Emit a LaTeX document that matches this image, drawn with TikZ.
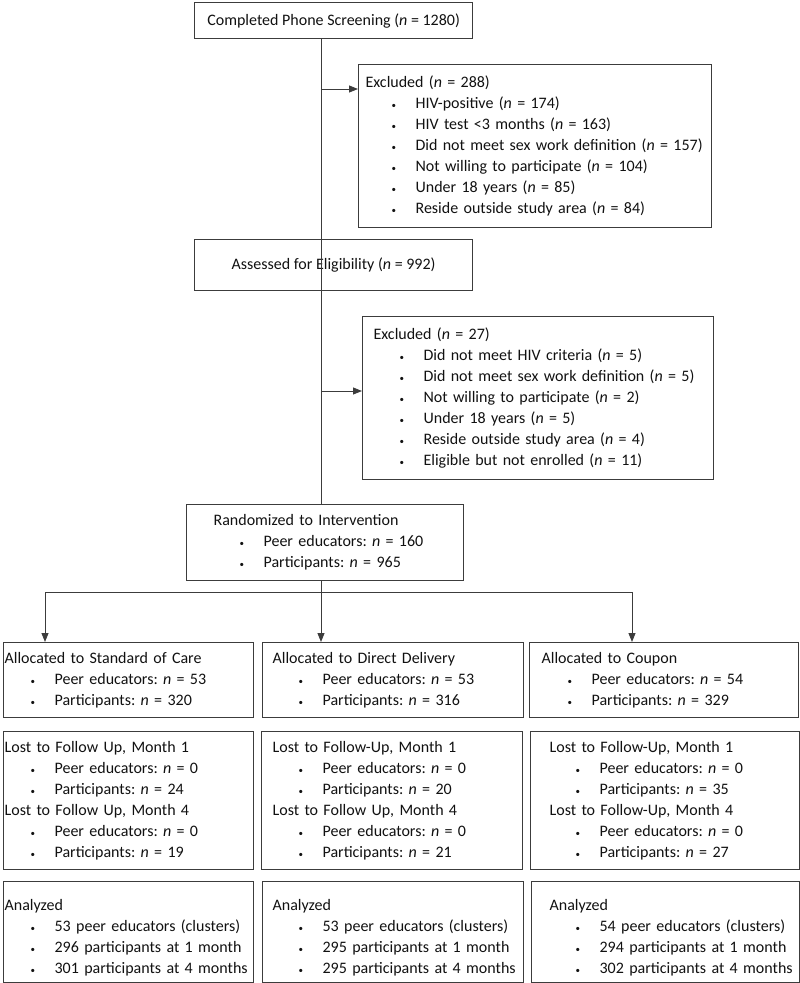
\documentclass[tikz,border=0pt]{standalone}
\usepackage{fontspec}
\setmainfont{Carlito}
\usetikzlibrary{arrows.meta}
\definecolor{boxline}{HTML}{3C3C3C}
\definecolor{ink}{HTML}{111111}
\frenchspacing
\newcommand{\nn}{\textit{n}}
\newcommand{\flowitem}[1]{\\\hspace*{26pt}\makebox[24pt][l]{\small\textbullet}\mbox{#1}}

\begin{document}
\begin{tikzpicture}[x=1pt, y=-1pt,
    font=\fontsize{16}{21}\selectfont, text=ink,
    box/.style={draw=boxline, line width=1.2pt, rectangle, inner ysep=0pt},
    lbox/.style={box, anchor=north west, align=left},
    link/.style={draw=boxline, line width=0.9pt},
    arr/.style={link, -{Triangle[length=9pt,width=7pt]}}]
    \useasboundingbox (0,0) rectangle (800,983);

    % screening and exclusions
    \node [box, anchor=north west, minimum width=278pt, minimum height=36pt] (screen) at (194,2) {Completed Phone Screening (\nn{} = 1280)};
    \node [lbox, inner xsep=7pt, text width=339pt, minimum height=163pt] (excl1) at (358,64) {\mbox{Excluded (\nn{} = 288)}\flowitem{HIV-positive (\nn{} = 174)}\flowitem{HIV test <3 months (\nn{} = 163)}\flowitem{Did not meet sex work definition (\nn{} = 157)}\flowitem{Not willing to participate (\nn{} = 104)}\flowitem{Under 18 years (\nn{} = 85)}\flowitem{Reside outside study area (\nn{} = 84)}};
    \node [box, anchor=north west, minimum width=278pt, minimum height=51pt] (assess) at (194,239) {Assessed for Eligibility (\nn{} = 992)};
    \node [lbox, inner xsep=11pt, text width=329pt, minimum height=163pt] (excl2) at (362,316) {\mbox{Excluded (\nn{} = 27)}\flowitem{Did not meet HIV criteria (\nn{} = 5)}\flowitem{Did not meet sex work definition (\nn{} = 5)}\flowitem{Not willing to participate (\nn{} = 2)}\flowitem{Under 18 years (\nn{} = 5)}\flowitem{Reside outside study area (\nn{} = 4)}\flowitem{Eligible but not enrolled (\nn{} = 11)}};
    \node [lbox, inner xsep=27pt, text width=223pt, minimum height=76pt] (rand) at (186,504) {\mbox{Randomized to Intervention}\flowitem{Peer educators: \nn{} = 160}\flowitem{Participants: \nn{} = 965}};

    % allocation
    \node [lbox, inner xsep=1pt, text width=248pt, minimum height=75pt] (allocA) at (3,642) {\mbox{Allocated to Standard of Care}\flowitem{Peer educators: \nn{} = 53}\flowitem{Participants: \nn{} = 320}};
    \node [lbox, inner xsep=10pt, text width=241pt, minimum height=75pt] (allocB) at (262,642) {\mbox{Allocated to Direct Delivery}\flowitem{Peer educators: \nn{} = 53}\flowitem{Participants: \nn{} = 316}};
    \node [lbox, inner xsep=12pt, text width=245pt, minimum height=75pt] (allocC) at (529,642) {\mbox{Allocated to Coupon}\flowitem{Peer educators: \nn{} = 54}\flowitem{Participants: \nn{} = 329}};

    % follow-up
    \node [lbox, inner xsep=1pt, text width=248pt, minimum height=138pt] (lostA) at (3,731) {\mbox{Lost to Follow Up, Month 1}\flowitem{Peer educators: \nn{} = 0}\flowitem{Participants: \nn{} = 24}\\\mbox{Lost to Follow Up, Month 4}\flowitem{Peer educators: \nn{} = 0}\flowitem{Participants: \nn{} = 19}};
    \node [lbox, inner xsep=11pt, text width=239pt, minimum height=138pt] (lostB) at (261,731) {\mbox{Lost to Follow-Up, Month 1}\flowitem{Peer educators: \nn{} = 0}\flowitem{Participants: \nn{} = 20}\\\mbox{Lost to Follow Up, Month 4}\flowitem{Peer educators: \nn{} = 0}\flowitem{Participants: \nn{} = 21}};
    \node [lbox, inner xsep=19pt, text width=231pt, minimum height=138pt] (lostC) at (530,731) {\mbox{Lost to Follow-Up, Month 1}\flowitem{Peer educators: \nn{} = 0}\flowitem{Participants: \nn{} = 35}\\\mbox{Lost to Follow-Up, Month 4}\flowitem{Peer educators: \nn{} = 0}\flowitem{Participants: \nn{} = 27}};

    % analysis
    \node [lbox, inner xsep=1pt, text width=248pt, minimum height=101pt] (anaA) at (3,881) {\mbox{\rule{0pt}{22pt}Analyzed}\flowitem{53 peer educators (clusters)}\flowitem{296 participants at 1 month}\flowitem{301 participants at 4 months}};
    \node [lbox, inner xsep=10pt, text width=241pt, minimum height=101pt] (anaB) at (262,881) {\mbox{\rule{0pt}{22pt}Analyzed}\flowitem{53 peer educators (clusters)}\flowitem{295 participants at 1 month}\flowitem{295 participants at 4 months}};
    \node [lbox, inner xsep=18pt, text width=232pt, minimum height=101pt] (anaC) at (531,881) {\mbox{\rule{0pt}{22pt}Analyzed}\flowitem{54 peer educators (clusters)}\flowitem{294 participants at 1 month}\flowitem{302 participants at 4 months}};

    % connectors
    \coordinate (spine) at (321,0);
    \coordinate (tap1) at (321,89);
    \coordinate (tap2) at (321,391);
    \coordinate (split) at (321,592);
    \coordinate (splitL) at (45,592);
    \coordinate (splitR) at (632,592);
    \draw[link] (screen.south -| spine) -- (rand.north -| spine);
    \draw[arr] (tap1) -- (tap1 -| excl1.west);
    \draw[arr] (tap2) -- (tap2 -| excl2.west);
    \draw[link] (rand.south -| split) -- (split);
    \draw[link] (splitL) -- (splitR);
    \draw[arr] (splitL) -- (splitL |- allocA.north);
    \draw[arr] (split) -- (split |- allocB.north);
    \draw[arr] (splitR) -- (splitR |- allocC.north);
\end{tikzpicture}
\end{document}
